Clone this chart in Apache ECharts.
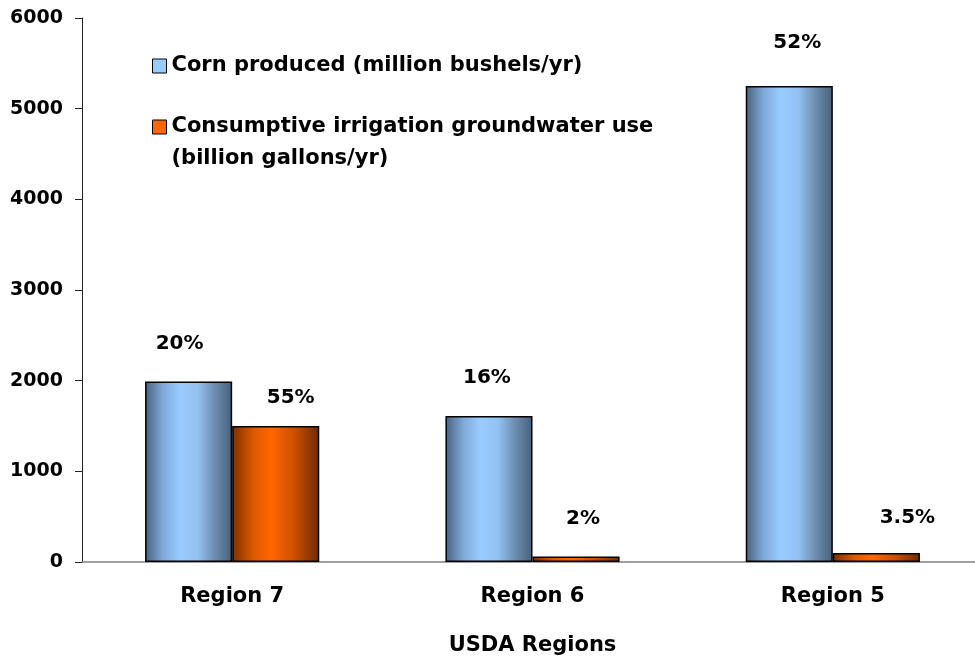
<!DOCTYPE html>
<html>
<head>
<meta charset="utf-8">
<script src="https://cdn.jsdelivr.net/npm/echarts@6/dist/echarts.min.js"></script>
<style>
  html, body { margin: 0; padding: 0; background: #fff; }
  #chart { width: 975px; height: 660px; }
</style>
</head>
<body>
<div id="chart"></div>
<script>
  // data
  var regions = ['Region 7', 'Region 6', 'Region 5'];
  var cornValues = [1990, 1610, 5250];
  var waterValues = [1500, 60, 100];
  var cornShares = ['20%', '16%', '52%'];
  var waterShares = ['55%', '2%', '3.5%'];
  var yTicks = [0, 1000, 2000, 3000, 4000, 5000, 6000];

  // hand-placed label nudges (x, y) as in the original slide
  var cornLabelNudge = [[-9, 0], [-2, 0], [8, -5]];
  var waterLabelNudge = [[15, 10], [7, 0], [31, 3]];

  var cornName = 'Corn produced (million bushels/yr)';
  var waterName = 'Consumptive irrigation groundwater use\n(billion gallons/yr)';
  var font = 'DejaVu Sans, Verdana, sans-serif';

  var blueFill = new echarts.graphic.LinearGradient(0, 0, 1, 0, [
    { offset: 0, color: '#48607c' },
    { offset: 0.2, color: '#7ea8d6' },
    { offset: 0.4, color: '#99ccff' },
    { offset: 0.6, color: '#93c2f2' },
    { offset: 0.8, color: '#6d8db0' },
    { offset: 1, color: '#48607c' }
  ]);
  var orangeFill = new echarts.graphic.LinearGradient(0, 0, 1, 0, [
    { offset: 0, color: '#7a3000' },
    { offset: 0.25, color: '#e05a00' },
    { offset: 0.45, color: '#ff6600' },
    { offset: 0.7, color: '#d05000' },
    { offset: 1, color: '#6e2c00' }
  ]);

  function barData(values, shares, nudge) {
    return values.map(function (v, i) {
      return { value: v, label: { formatter: shares[i], offset: nudge[i] } };
    });
  }

  var labelStyle = {
    show: true,
    position: 'top',
    distance: 28,
    color: '#000',
    fontFamily: font,
    fontWeight: 'bold',
    fontSize: 20
  };

  var myChart = echarts.init(document.getElementById('chart'));
  var option = {
    animation: false,
    textStyle: { fontFamily: font },
    grid: { left: 82, top: 18, right: -8, bottom: 98, outerBoundsMode: 'none', containLabel: false },
    legend: {
      orient: 'vertical',
      left: 152,
      top: 50,
      padding: 0,
      itemWidth: 14,
      itemHeight: 14,
      itemGap: -3,
      icon: 'rect',
      textStyle: { fontFamily: font, fontWeight: 'bold', fontSize: 21, color: '#000', lineHeight: 32 },
      // empty first line keeps the icon level with the first text line
      formatter: function (name) { return name === waterName ? '\n' + name : name; },
      data: [
        { name: cornName, itemStyle: { color: '#99ccff', borderColor: '#000', borderWidth: 1 } },
        { name: waterName, itemStyle: { color: '#ff6600', borderColor: '#000', borderWidth: 1 } }
      ]
    },
    xAxis: {
      type: 'category',
      data: regions,
      axisLine: { lineStyle: { color: '#808080', width: 1.5 } },
      axisTick: { show: false },
      axisLabel: { margin: 24, color: '#000', fontWeight: 'bold', fontSize: 21, fontFamily: font },
      name: 'USDA Regions',
      nameLocation: 'middle',
      nameGap: 73,
      nameTextStyle: { color: '#000', fontWeight: 'bold', fontSize: 21, fontFamily: font }
    },
    yAxis: {
      type: 'value',
      min: yTicks[0],
      max: yTicks[yTicks.length - 1],
      interval: 1000,
      axisLine: { show: true, lineStyle: { color: '#222', width: 1 } },
      axisTick: { show: true, length: 7, lineStyle: { color: '#222' } },
      splitLine: { show: false },
      axisLabel: {
        margin: 19, color: '#000', fontWeight: 'bold', fontSize: 19, fontFamily: font,
        formatter: function (v) { return String(v); }
      }
    },
    series: [
      {
        name: cornName,
        type: 'bar',
        data: barData(cornValues, cornShares, cornLabelNudge),
        barGap: '0%',
        barCategoryGap: '42%',
        itemStyle: { color: blueFill, borderColor: '#000', borderWidth: 1.5 },
        label: labelStyle
      },
      {
        name: waterName,
        type: 'bar',
        data: barData(waterValues, waterShares, waterLabelNudge),
        itemStyle: { color: orangeFill, borderColor: '#000', borderWidth: 1.5 },
        label: labelStyle
      }
    ]
  };
  myChart.setOption(option);
</script>
</body>
</html>
